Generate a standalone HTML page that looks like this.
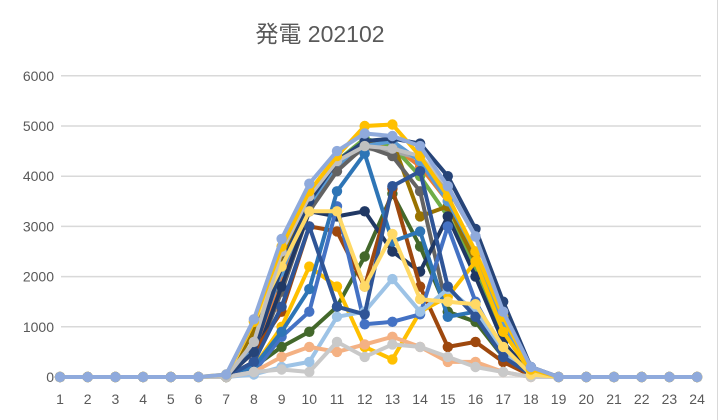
<!DOCTYPE html>
<html><head><meta charset="utf-8"><style>
body{margin:0;background:#fff}
svg{display:block}
</style></head><body>
<svg id="c" width="719" height="420" xmlns="http://www.w3.org/2000/svg" font-family="Liberation Sans, Noto Sans CJK JP, sans-serif">
<rect x="0" y="0" width="719" height="420" fill="#fff"/>
<line x1="717.5" y1="0" x2="717.5" y2="420" stroke="#d9d9d9"/>
<text x="320" y="42" text-anchor="middle" font-size="23" fill="#595959" font-family="Liberation Sans, Noto Sans CJK JP, sans-serif">発電 202102</text>
<g id="grid"></g><g id="series"></g>
</svg>
<script>
function X(h){return 60+(h-1)*27.7}
function Y(v){return 377-v*0.0502}
var g=document.getElementById('grid');
var out='';
for(var i=0;i<=6;i++){var y=Y(i*1000);
out+='<line x1="61" x2="701" y1="'+y+'" y2="'+y+'" stroke="#d9d9d9" stroke-width="1.5"/>';
out+='<text x="54" y="'+(y+5)+'" text-anchor="end" font-size="14" fill="#595959">'+(i*1000)+'</text>';}
for(var h=1;h<=24;h++){out+='<text x="'+X(h)+'" y="404" text-anchor="middle" font-size="14" fill="#595959">'+h+'</text>';}
g.innerHTML=out;
var D=[
['#ed7d31',[0,300,2000,3400,4200,4700,4600,4200,3500,2400,1000,100]],
['#70ad47',[0,700,2300,3600,4300,4750,4600,4000,3200,2200,900,100]],
['#a5a5a5',[0,500,2200,3500,4200,4550,4500,4350,3750,2800,1300,200]],
['#997300',[0,900,2400,3500,4200,4700,4700,3200,3400,2300,1000,100]],
['#5b9bd5',[0,600,2100,3400,4200,4600,4700,4300,3500,2500,1100,100]],
['#636363',[0,300,1700,3300,4100,4600,4400,3700,1300,1100,500,50]],
['#43682b',[0,200,600,900,1400,2400,3650,2600,1300,1100,400,50]],
['#203864',[0,300,1800,3300,3200,3300,2500,2100,3200,2000,700,50]],
['#9e480e',[0,500,1300,3000,2900,1800,3750,1800,600,700,300,30]],
['#ffc000',[0,200,1000,2200,1800,600,350,1300,1600,2300,900,100]],
['#4472c4',[0,100,800,1300,3400,1050,1100,1250,3000,1500,500,50]],
['#2e75b6',[0,200,900,1750,3700,4450,2700,2900,1200,1300,600,50]],
['#9dc3e6',[0,50,200,300,1200,1300,1950,1300,1750,1300,500,50]],
['#2f5597',[0,300,1400,3000,1400,1250,3800,4100,1800,1200,400,50]],
['#f4b183',[0,100,400,600,500,650,800,600,300,300,100,0]],
['#c9c9c9',[0,100,150,100,700,400,650,600,400,200,100,0]],
['#264478',[0,500,2200,3500,4300,4700,4750,4650,4000,2950,1500,200]],
['#ffd966',[0,1100,2200,3300,3300,1800,2850,1550,1500,1450,600,50]],
['#c0c0c0',[0,700,2500,3600,4300,4600,4550,4400,3800,2800,1200,150]],
['#ffc000',[50,1100,2600,3700,4400,5000,5030,4400,3600,2500,1200,150]],
['#8faadc',[50,1150,2750,3850,4500,4850,4800,4600,3800,2800,1300,200]]
];
var o='';
D.forEach(function(d){var v=[];for(var h=1;h<=24;h++){v.push(h>=7&&h<=18?d[1][h-7]:0);}
var p=v.map(function(a,i){return X(i+1).toFixed(1)+','+Y(a).toFixed(1)}).join(' ');
o+='<polyline points="'+p+'" fill="none" stroke="'+d[0]+'" stroke-width="4" stroke-linejoin="round"/>';
v.forEach(function(a,i){o+='<circle cx="'+X(i+1).toFixed(1)+'" cy="'+Y(a).toFixed(1)+'" r="5.2" fill="'+d[0]+'"/>';});});
document.getElementById('series').innerHTML=o;
</script>
</body></html>
